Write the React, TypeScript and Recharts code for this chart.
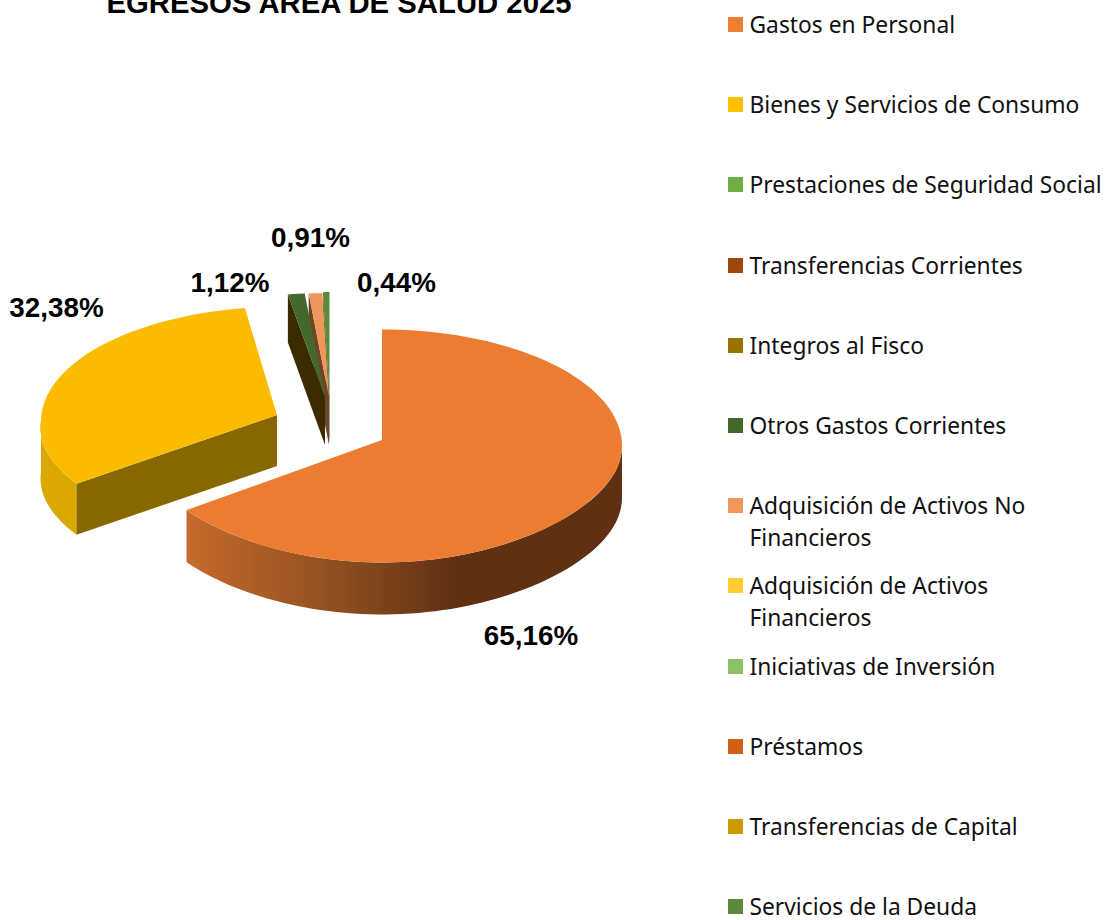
import { Legend, Pie, PieChart } from "recharts";

const categories = [
  "Gastos en Personal",
  "Bienes y Servicios de Consumo",
  "Prestaciones de Seguridad Social",
  "Transferencias Corrientes",
  "Integros al Fisco",
  "Otros Gastos Corrientes",
  "Adquisición de Activos No Financieros",
  "Adquisición de Activos Financieros",
  "Iniciativas de Inversión",
  "Préstamos",
  "Transferencias de Capital",
  "Servicios de la Deuda",
];
const shares = [65.16, 32.38, 0, 0, 0, 1.12, 0.91, 0, 0, 0, 0, 0.44];
const legendColors = [
  "#ED7D31", "#FFC000", "#70AD47", "#9E480E", "#997300", "#43682B",
  "#F1975A", "#FFCD33", "#8CC168", "#D26012", "#CC9A00", "#5A8A39",
];

const pieRows = categories.map((name, i) => ({ name, value: shares[i] })).reverse();

// exploded look of the non-empty slices
const sliceStyles: Record<string, any> = {
  "Gastos en Personal": { dx: 0, dy: 0, depth: 52, yScale: 1, warp: false, top: "#EB7C31", rim: "url(#gastosRim)", wall: "#5F3012" },
  "Bienes y Servicios de Consumo": { dx: -105, dy: -25, depth: 51, yScale: 0.98, warp: true, top: "#FBBC00", rim: "#DAA800", wall: "#876800" },
  "Otros Gastos Corrientes": { dx: -57, dy: -43, depth: 48, yScale: 0.94, warp: false, top: "#43682B", rim: "#3B2C00", wall: "#3B2C00" },
  "Adquisición de Activos No Financieros": { dx: -53, dy: -43, depth: 48, yScale: 0.94, warp: false, top: "#EE965B", rim: "#6E4526", wall: "#6E4526" },
  "Servicios de la Deuda": { dx: -52.5, dy: -44, depth: 48, yScale: 0.94, warp: false, top: "#5A8A39", rim: "#33501F", wall: "#33501F" },
};

const labelSpots: Record<string, [number, number]> = {
  "Gastos en Personal": [149, 195],
  "Bienes y Servicios de Consumo": [-325.5, -133],
  "Otros Gastos Corrientes": [-152, -158],
  "Adquisición de Activos No Financieros": [-71.5, -203],
  "Servicios de la Deuda": [14.5, -158],
};

const toClock = (a: number) => 90 - a;

// the photo's perspective is not a clean ellipse, so the rim bends a little
function rimPoint(cx: number, cy: number, r: number, clock: number, yScale: number, warp: boolean) {
  const t = (clock * Math.PI) / 180;
  const c = Math.cos(t);
  const bend = c < 0 ? 9 * c * (1 - c * c) : 0;
  const shift = warp ? (c < 0 ? 4 + 15.5 * c : 4 + c) : 0;
  return [cx + r * Math.sin(t) + shift, cy + (6 - 116.5 * c + bend) * yScale];
}

function arcPoints(cx: number, cy: number, r: number, from: number, to: number, yScale: number, warp: boolean) {
  const pts: number[][] = [];
  const steps = Math.max(2, Math.ceil((to - from) / 2));
  for (let i = 0; i <= steps; i++) {
    pts.push(rimPoint(cx, cy, r, from + ((to - from) * i) / steps, yScale, warp));
  }
  return pts;
}

const toPath = (pts: number[][]) =>
  "M" + pts.map((p) => `${p[0].toFixed(1)},${p[1].toFixed(1)}`).join("L") + "Z";

function Slice3D(props: any) {
  const { cx, cy, outerRadius, startAngle, endAngle, name } = props;
  const look = sliceStyles[name];
  if (!look || startAngle === endAngle) return null;
  const a = Math.min(toClock(startAngle), toClock(endAngle));
  const b = Math.max(toClock(startAngle), toClock(endAngle));
  const ox = cx + look.dx;
  const oy = cy + look.dy;
  const down = (pts: number[][]) => pts.map((p) => [p[0], p[1] + look.depth]);
  const arc = arcPoints(ox, oy, outerRadius, a, b, look.yScale, look.warp);
  const rimFrom = Math.max(a, 90);
  const rimTo = Math.min(b, 270);
  const rimArc = rimTo > rimFrom ? arcPoints(ox, oy, outerRadius, rimFrom, rimTo, look.yScale, look.warp) : [];
  const edge = [[ox, oy], arc[0]];
  return (
    <g>
      {rimArc.length > 0 && <path d={toPath([...rimArc, ...down(rimArc).reverse()])} fill={look.rim} />}
      {a > 180 && <path d={toPath([...edge, ...down(edge).reverse()])} fill={look.wall} />}
      {a === 0 && <path d={`M${ox},${oy}L${ox},${oy - 55}L${ox - 1.5},${oy - 55}L${ox - 1.5},${oy}Z`} fill={look.wall} />}
      <path d={toPath([[ox, oy], ...arc])} fill={look.top} />
    </g>
  );
}

function sliceLabel(props: any) {
  const spot = labelSpots[props.name];
  if (!spot || !props.value) return null;
  return (
    <text
      x={props.cx + spot[0]}
      y={props.cy + spot[1]}
      textAnchor="middle"
      dominantBaseline="central"
      fontFamily="Liberation Sans"
      fontWeight="bold"
      fontSize={27.8}
      fill="#000"
    >
      {props.value.toFixed(2).replace(".", ",") + "%"}
    </text>
  );
}

function LegendList() {
  return (
    <div style={{ fontFamily: "Noto Sans", fontSize: 22.8, lineHeight: "32px", color: "#111" }}>
      {categories.map((name, i) => (
        <div key={name} style={{ position: "relative", height: 80.2, paddingLeft: 21.5, width: 378, boxSizing: "border-box" }}>
          <span style={{ position: "absolute", left: 0, top: 8, width: 15, height: 15, background: legendColors[i] }} />
          {name}
        </div>
      ))}
    </div>
  );
}

export default function App() {
  return (
    <div style={{ position: "absolute", left: 0, top: 0, width: 1107, height: 920, overflow: "hidden" }}>
      <PieChart width={1107} height={920} margin={{ top: 0, right: 0, bottom: 0, left: 0 }}>
        <defs>
          <linearGradient id="gastosRim" x1="0" y1="0" x2="1" y2="0">
            <stop offset="0%" stopColor="#C66B2C" />
            <stop offset="35%" stopColor="#8E4E20" />
            <stop offset="62%" stopColor="#5F3012" />
            <stop offset="100%" stopColor="#5F3012" />
          </linearGradient>
        </defs>
        <text x={339} y={13} textAnchor="middle" fontFamily="Liberation Sans" fontWeight="bold" fontSize={29.3} fill="#000">
          EGRESOS AREA DE SALUD 2025
        </text>
        <Pie
          data={pieRows}
          dataKey="value"
          nameKey="name"
          cx={382}
          cy={440}
          outerRadius={240}
          startAngle={-270}
          endAngle={90}
          stroke="none"
          shape={Slice3D}
          label={sliceLabel}
          labelLine={false}
          isAnimationActive={false}
        />
        <Legend content={<LegendList />} wrapperStyle={{ position: "absolute", left: 728, top: 9, width: 379, bottom: "auto", right: "auto" }} />
      </PieChart>
    </div>
  );
}
